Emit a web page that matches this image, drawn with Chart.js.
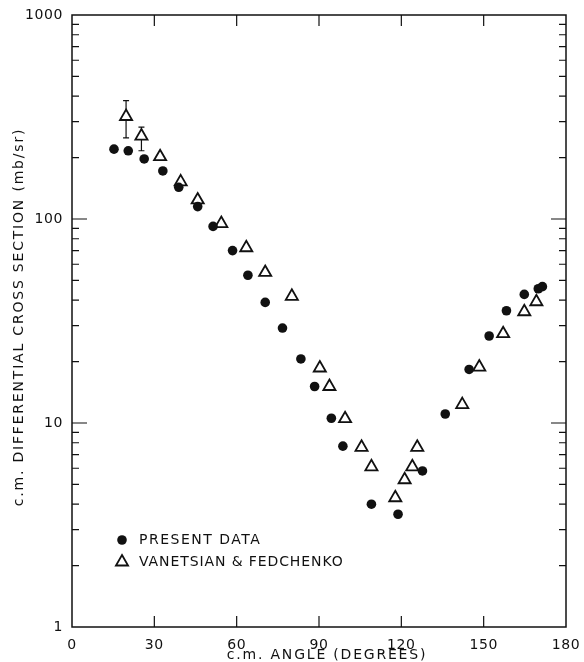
<!DOCTYPE html>
<html>
<head>
<meta charset="utf-8">
<script src="https://cdn.jsdelivr.net/npm/chart.js@4/dist/chart.umd.min.js"></script>
<style>
  html, body { margin: 0; padding: 0; background: #fff; }
  #wrap { width: 584px; height: 662px; }
</style>
</head>
<body>
<div id="wrap"><canvas id="xsec" width="584" height="662"></canvas></div>
<script>
/* ── data ── */
var presentAngle = [15.3, 20.5, 26.3, 33.1, 38.9, 45.8, 51.4, 58.5, 64.1, 70.4, 76.7, 83.4, 88.4,
                    94.5, 98.7, 109.1, 118.8, 127.7, 136.0, 144.7, 152.0, 158.3, 164.8, 169.9, 171.4];
var presentSigma = [220, 216, 197, 172, 143, 115, 92, 70, 53, 39, 29.2, 20.6, 15.1,
                    10.55, 7.7, 4.0, 3.57, 5.82, 11.07, 18.3, 26.7, 35.5, 42.7, 45.5, 46.6];

var vanAngle = [19.7, 25.3, 32.1, 39.6, 45.8, 54.4, 63.5, 70.4, 80.1, 90.3, 93.8, 99.5,
                105.5, 109.1, 117.8, 121.2, 124.0, 125.8, 142.2, 148.4, 157.1, 164.8, 169.2];
var vanSigma = [318, 255, 202, 152, 124, 95, 72.3, 54.7, 41.8, 18.6, 15.1, 10.5,
                7.6, 6.1, 4.3, 5.27, 6.1, 7.6, 12.3, 18.8, 27.4, 35.1, 39.3];
var vanErrHi = [380, 282];   // only the first two points carry error bars
var vanErrLo = [250, 216];

var xTicks = [0, 30, 60, 90, 120, 150, 180];
var yTicks = [1, 10, 100, 1000];

var INK = '#111';
var FONT = '"DejaVu Sans", sans-serif';

function pts(xs, ys) {
  return xs.map(function (x, i) { return { x: x, y: ys[i] }; });
}

/* ── wide lettering: tick labels a little, titles more ── */
var lettering = {
  id: 'lettering',
  beforeDraw: function (chart) { chart.ctx.letterSpacing = '0.6px'; },
  afterLayout: function (chart) {
    ['x', 'y'].forEach(function (k) {
      var s = chart.scales[k];
      if (s._wideTitle) return;
      var orig = s.drawTitle;
      s.drawTitle = function () {
        var c = this.ctx;
        c.save();
        c.letterSpacing = '1.8px';
        if (k === 'y') c.translate(0, -4);
        else c.translate(8, 0);
        orig.apply(this, arguments);
        c.restore();
      };
      s._wideTitle = true;
    });
  }
};

/* ── error bars under the triangles ── */
var errorBars = {
  id: 'errorBars',
  beforeDatasetsDraw: function (chart) {
    var c = chart.ctx, xs = chart.scales.x, ys = chart.scales.y;
    c.save();
    c.strokeStyle = INK; c.lineWidth = 1.2;
    vanErrHi.forEach(function (hi, i) {
      var px = xs.getPixelForValue(vanAngle[i]);
      var top = ys.getPixelForValue(hi), bot = ys.getPixelForValue(vanErrLo[i]);
      c.beginPath();
      c.moveTo(px, top); c.lineTo(px, bot);
      c.moveTo(px - 3, top); c.lineTo(px + 3, top);
      c.moveTo(px - 3, bot); c.lineTo(px + 3, bot);
      c.stroke();
    });
    c.restore();
  }
};

/* ── box with inward tick marks on all four sides ── */
var frame = {
  id: 'frame',
  afterDatasetsDraw: function (chart) {
    var c = chart.ctx, a = chart.chartArea, xs = chart.scales.x, ys = chart.scales.y;
    c.save();
    c.strokeStyle = INK; c.lineWidth = 1.5;
    c.strokeRect(a.left, a.top, a.right - a.left, a.bottom - a.top);
    c.lineWidth = 1.2;
    c.beginPath();
    xTicks.slice(1, -1).forEach(function (v) {
      var px = xs.getPixelForValue(v);
      c.moveTo(px, a.bottom); c.lineTo(px, a.bottom - 11);
      c.moveTo(px, a.top);    c.lineTo(px, a.top + 11);
    });
    for (var dec = 1; dec < 1000; dec *= 10) {
      for (var m = 1; m <= 9; m++) {
        if (dec === 1 && m === 1) continue;
        var py = ys.getPixelForValue(dec * m);
        var len = m === 1 ? 15 : 7;
        c.moveTo(a.left, py);  c.lineTo(a.left + len, py);
        c.moveTo(a.right, py); c.lineTo(a.right - len, py);
      }
    }
    c.stroke();
    c.restore();
  }
};

/* ── legend in the lower left of the plot ── */
var legendBox = {
  id: 'legendBox',
  afterDraw: function (chart) {
    var c = chart.ctx, a = chart.chartArea;
    var mx = a.left + 50, tx = a.left + 67, y1 = a.bottom - 87, y2 = a.bottom - 65;
    c.save();
    c.fillStyle = INK;
    c.beginPath(); c.arc(mx, y1, 4.8, 0, Math.PI * 2); c.fill();
    c.strokeStyle = INK; c.lineWidth = 1.8;
    c.beginPath();
    c.moveTo(mx, y2 - 7); c.lineTo(mx + 6.06, y2 + 3.5); c.lineTo(mx - 6.06, y2 + 3.5); c.closePath();
    c.stroke();
    c.font = '14px ' + FONT;
    c.textBaseline = 'middle';
    c.letterSpacing = '1.5px';
    c.fillText('PRESENT DATA', tx, y1);
    c.letterSpacing = '0.9px';
    c.fillText('VANETSIAN & FEDCHENKO', tx, y2);
    c.restore();
  }
};

new Chart(document.getElementById('xsec'), {
  type: 'scatter',
  data: {
    datasets: [
      { label: 'PRESENT DATA', data: pts(presentAngle, presentSigma),
        pointStyle: 'circle', pointRadius: 4.8, backgroundColor: INK, borderWidth: 0 },
      { label: 'VANETSIAN & FEDCHENKO', data: pts(vanAngle, vanSigma),
        pointStyle: 'triangle', pointRadius: 7, backgroundColor: '#fff', borderColor: INK, borderWidth: 1.8 }
    ]
  },
  plugins: [lettering, errorBars, frame, legendBox],
  options: {
    responsive: false, animation: false, devicePixelRatio: 1,
    layout: { padding: { top: 15, right: 18, left: 0, bottom: 0 } },
    plugins: { legend: { display: false }, tooltip: { enabled: false } },
    scales: {
      x: {
        type: 'linear', min: 0, max: 180,
        afterFit: function (s) { s.height = 35; s.paddingLeft = 0; s.paddingRight = 0; },
        afterBuildTicks: function (s) { s.ticks = xTicks.map(function (v) { return { value: v }; }); },
        grid: { display: false, drawTicks: false }, border: { display: false },
        ticks: { color: INK, font: { family: FONT, size: 14 }, padding: 10, maxRotation: 0 },
        title: { display: true, text: 'c.m. ANGLE (DEGREES)', color: INK,
                 font: { family: FONT, size: 14, lineHeight: 1 }, padding: 0 }
      },
      y: {
        type: 'logarithmic', min: 1, max: 1000,
        afterFit: function (s) { s.width = 72; s.paddingTop = 0; s.paddingBottom = 0; },
        afterBuildTicks: function (s) { s.ticks = yTicks.map(function (v) { return { value: v }; }); },
        grid: { display: false, drawTicks: false }, border: { display: false },
        ticks: { color: INK, font: { family: FONT, size: 14 }, padding: 9,
                 callback: function (v) { return String(v); } },
        title: { display: true, text: 'c.m. DIFFERENTIAL CROSS SECTION (mb/sr)', color: INK,
                 font: { family: FONT, size: 14 }, padding: { top: 11 } }
      }
    }
  }
});
</script>
</body>
</html>
